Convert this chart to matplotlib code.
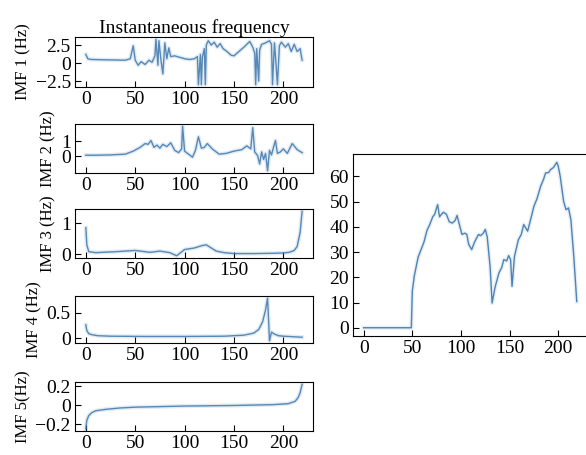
import numpy as np
import matplotlib.pyplot as plt

plt.rcParams['font.family'] = ['Liberation Serif', 'DejaVu Serif']
plt.rcParams['font.size'] = 14
plt.rcParams['xtick.direction'] = 'in'
plt.rcParams['ytick.direction'] = 'in'

# instantaneous frequency of each IMF
imf1_x = [0, 2, 5, 20, 40, 45, 48, 50, 53, 56, 60, 64, 67, 70, 71, 73, 74, 76, 78, 80,
          82, 84, 86, 90, 95, 100, 105, 110, 113, 114, 116, 117, 118, 120, 121, 122, 124,
          127, 130, 133, 136, 139, 143, 147, 150, 155, 160, 166, 169, 171, 172, 173, 175,
          176, 178, 182, 186, 188, 189, 191, 192, 194, 196, 198, 202, 205, 208, 211, 214, 217, 219]
imf1_y = [1.2, 0.6, 0.5, 0.45, 0.4, 0.6, 2.4, 0.4, -0.3, 0.2, -0.2, 0.4, 0.1, 1.0, 3.3, -0.3, 3.1, 0.5, -1.5, 2.8,
          0.6, 2.1, 0.9, 1.0, 0.8, 0.6, 0.5, 0.6, 0.9, -3.0, 1.2, -3.0, 0.8, 2.0, -3.0, 2.5, 3.1,
          2.5, 2.9, 2.2, 2.7, 2.0, 1.6, 1.1, 1.0, 1.6, 2.2, 3.0, 2.2, 1.4, -3.0, 2.0, -2.5,
          1.8, 2.6, 2.8, 3.1, 2.6, -3.0, 2.8, 1.0, -3.0, 2.4, 2.9, 2.2, 2.7, 1.6, 2.6, 1.6, 2.0, 0.4]

imf2_x = [0, 10, 25, 40, 48, 55, 60, 63, 66, 69, 72, 75, 78, 82, 86, 90, 94, 97, 98, 100,
          104, 108, 111, 114, 117, 120, 123, 128, 135, 142, 150, 158, 163, 167, 169, 171,
          174, 176, 178, 180, 182, 184, 186, 188, 190, 192, 194, 197, 200, 204, 209, 214, 219]
imf2_y = [0.08, 0.08, 0.1, 0.15, 0.35, 0.6, 0.85, 0.8, 1.05, 0.6, 0.75, 0.55, 0.8, 0.65, 0.9, 0.4, 0.25, 0.5, 2.0, 0.35,
          0.15, -0.05, 0.4, 1.3, 0.55, 0.6, 0.85, 0.5, 0.15, 0.2, 0.35, 0.45, 0.7, 0.5, 1.9, 0.3,
          0.05, -0.5, 0.3, -0.2, 0.2, -0.95, 0.4, 0.1, 0.6, 1.05, 0.2, 0.3, 0.5, 0.2, 0.85, 0.45, 0.25]

imf3_x = [0, 1, 3, 10, 30, 50, 65, 75, 85, 92, 100, 110, 118, 122, 127, 132, 140, 150,
          170, 190, 200, 206, 211, 214, 217, 219]
imf3_y = [0.85, 0.3, 0.08, 0.05, 0.08, 0.12, 0.06, 0.1, 0.05, -0.05, 0.15, 0.2, 0.28, 0.3, 0.2, 0.1, 0.05, 0.02,
          0.02, 0.03, 0.04, 0.06, 0.12, 0.25, 0.7, 1.38]

imf4_x = [0, 1, 3, 6, 12, 25, 60, 100, 140, 160, 170, 175, 179, 182, 184, 186, 188,
          191, 195, 200, 210, 219]
imf4_y = [0.26, 0.15, 0.09, 0.07, 0.05, 0.04, 0.035, 0.035, 0.04, 0.06, 0.1, 0.17, 0.32, 0.55, 0.78, -0.05, 0.12,
          0.08, 0.05, 0.04, 0.03, 0.02]

imf5_x = [0, 1, 3, 6, 10, 20, 35, 50, 100, 150, 190, 205, 212, 215, 217, 219]
imf5_y = [-0.25, -0.16, -0.11, -0.08, -0.06, -0.045, -0.03, -0.022, -0.01, -0.004, 0.005, 0.015, 0.04, 0.08, 0.13, 0.22]

imf_x = [imf1_x, imf2_x, imf3_x, imf4_x, imf5_x]
imf_y = [imf1_y, imf2_y, imf3_y, imf4_y, imf5_y]
imf_labels = ['IMF 1 (Hz)', 'IMF 2 (Hz)', 'IMF 3 (Hz)', 'IMF 4 (Hz)', 'IMF 5(Hz)']
imf_yticks = [[-2.5, 0, 2.5], [0, 1], [0, 1], [0, 0.5], [-0.2, 0, 0.2]]
imf_yticklabels = [['\u22122.5', '0', '2.5'], ['0', '1'], ['0', '1'], ['0', '0.5'],
                   ['\u22120.2', '0', '0.2']]
xticks = [0, 50, 100, 150, 200]

# right panel series
freq_x = [0, 10, 20, 30, 40, 49, 50, 52, 56, 59, 62, 65, 68, 71, 73, 76, 78, 80, 82, 85,
          88, 91, 94, 96, 99, 101, 104, 106, 108, 111, 114, 118, 120, 123, 125, 127, 130,
          132, 135, 139, 142, 144, 147, 149, 151, 152.5, 155, 159, 162, 164.5, 168.5, 171,
          175, 178, 182, 185, 187, 190, 192, 195, 198.5, 200, 202, 205.5, 208, 210.5, 213, 216, 219]
freq_y = [0, 0, 0, 0, 0, 0, 14.5, 20.5, 28, 31, 34, 38.5, 41, 44, 45, 48.8, 44, 45, 45.8, 45,
          42, 41.5, 42.5, 44.5, 40, 37, 37.5, 37, 33, 31, 34, 37, 36.5, 37.5, 39, 36, 24,
          9.8, 16, 21.7, 24, 27, 26.5, 28.6, 27, 16.4, 28.3, 34.9, 37, 40.9, 38.3, 42,
          48.2, 51, 56.2, 59, 61.4, 61.5, 62.7, 63.5, 65.6, 64, 60, 50.1, 46.8, 47.5, 42.8, 28, 10.4]

line_color = '#3d78ad'

fig = plt.figure(figsize=(5.86, 4.55), dpi=100)

tops = [0.9187, 0.7275, 0.5407, 0.3495, 0.1604]
bottoms = [0.8088, 0.6198, 0.4330, 0.2462, 0.0527]

for i in range(5):
    ax = fig.add_axes([0.128, bottoms[i], 0.406, tops[i] - bottoms[i]])
    ax.plot(imf_x[i], imf_y[i], color=line_color, lw=3, alpha=0.15)
    ax.plot(imf_x[i], imf_y[i], color=line_color, lw=1, alpha=0.85)
    ax.set_xticks(xticks)
    ax.set_yticks(imf_yticks[i])
    ax.set_yticklabels(imf_yticklabels[i])
    ax.set_ylabel(imf_labels[i], fontsize=12, labelpad=3)
    ax.tick_params(length=4, pad=3)
    if i == 0:
        ax.set_title('Instantaneous frequency', fontsize=14, pad=3)

ax = fig.add_axes([0.6024, 0.2615, 0.4, 0.40])
ax.plot(freq_x, freq_y, color=line_color, lw=3, alpha=0.12)
ax.plot(freq_x, freq_y, color=line_color, lw=1, alpha=0.9)
ax.set_xticks(xticks)
ax.set_yticks([0, 10, 20, 30, 40, 50, 60])
ax.tick_params(length=4, pad=3)

fig.savefig('out.png', dpi=100)
